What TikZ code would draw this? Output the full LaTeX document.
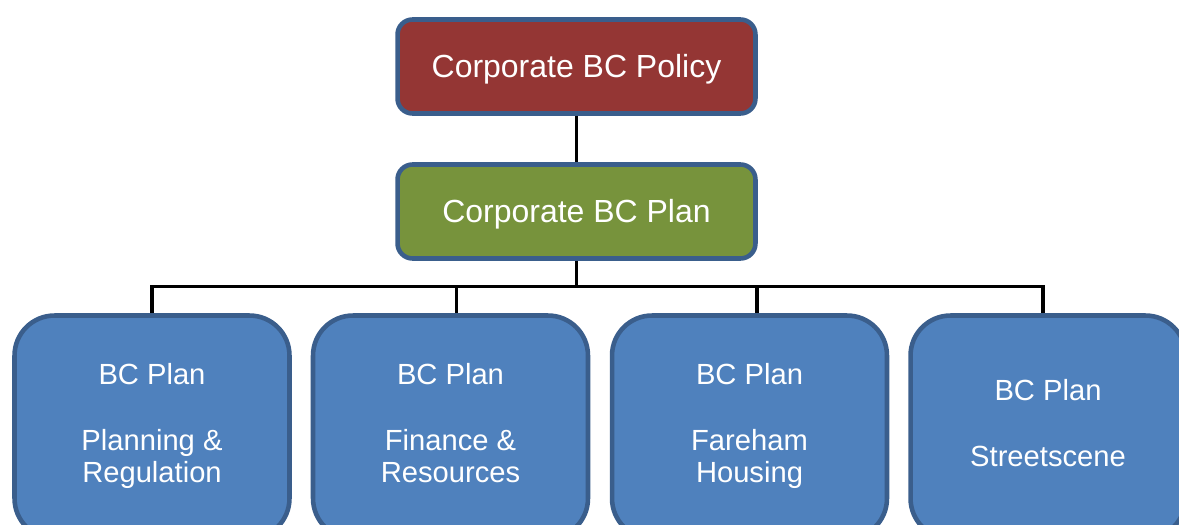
\documentclass[tikz,border=0pt]{standalone}
\usepackage{fontspec}
\setmainfont{Liberation Sans}
\usetikzlibrary{positioning}

\definecolor{policyred}{HTML}{943634}
\definecolor{plangreen}{HTML}{77933C}
\definecolor{unitblue}{HTML}{4F81BD}
\definecolor{edgeblue}{HTML}{3A5E8C}

\tikzset{
	topbox/.style={draw=edgeblue, line width=2.6pt, rounded corners=0.3cm, minimum width=7.16cm, minimum height=1.88cm, text=white, text height=13pt, text depth=0pt, font=\fontsize{18.2}{22}\selectfont},
	unitbox/.style={draw=edgeblue, line width=2.6pt, rounded corners=0.8cm, fill=unitblue, minimum width=5.5cm, minimum height=4.46cm, text=white, align=center, font=\fontsize{16.6}{18.7}\selectfont},
	link/.style={line width=1.8pt}
}

\begin{document}
\begin{tikzpicture}[x=0.02cm,y=-0.02cm]
	\useasboundingbox (0,0) rectangle (1179,524);
	\clip (0,0) rectangle (1179,524);

	\node[topbox,fill=policyred] (policy) at (576.5,66.5) {Corporate BC Policy};
	\node[topbox,fill=plangreen] (plan)   at (576.5,211.5) {Corporate BC Plan};

	\node[unitbox] (unitA) at (152,427)    {\strut BC Plan\\[18.7pt]Planning \&\\Regulation\strut};
	\node[unitbox] (unitB) at (450.5,427)  {\strut BC Plan\\[18.7pt]Finance \&\\Resources\strut};
	\node[unitbox] (unitC) at (749.5,427)  {\strut BC Plan\\[18.7pt]Fareham\\Housing\strut};
	\node[unitbox] (unitD) at (1048,427)   {\strut BC Plan\\[18.7pt]Streetscene\strut};

	\draw[link] (policy) -- (plan);
	\draw[link] (plan.south) -- ++(0,26) coordinate (bus);
	\draw[link] (unitA.north) |- (bus) -| ([xshift=-0.1cm]unitD.north);
	\draw[link] ([xshift=0.12cm]unitB.north) -- ([xshift=0.12cm]unitB.north |- bus);
	\draw[link] ([xshift=0.15cm]unitC.north) -- ([xshift=0.15cm]unitC.north |- bus);
\end{tikzpicture}
\end{document}
